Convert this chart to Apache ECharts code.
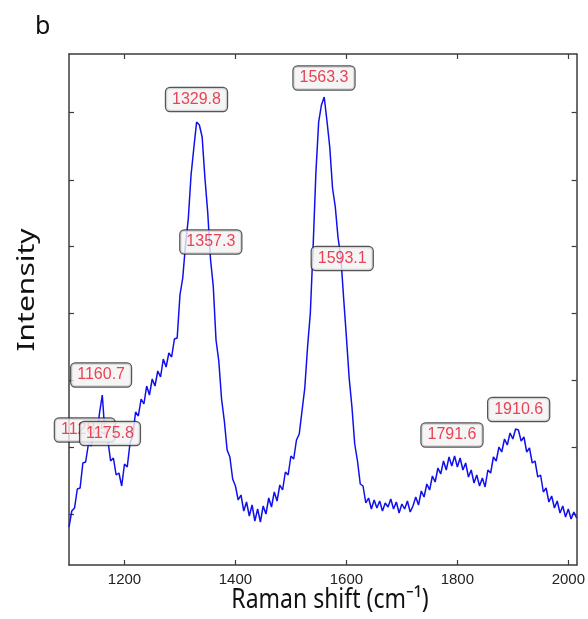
<!DOCTYPE html>
<html>
<head>
<meta charset="utf-8">
<script src="https://cdn.jsdelivr.net/npm/echarts@6/dist/echarts.min.js"></script>
<style>
  html, body { margin: 0; padding: 0; background: #fff; }
  #root { width: 588px; height: 619px; }
</style>
</head>
<body>
<div id="root"></div>
<script>
var shiftStart = 1100
var shiftStep = 5
var intensity = [
  380, 540, 570, 760, 770, 1020, 1030, 1210, 1190, 1330,
  1300, 1520, 1700, 1300, 1250, 1040, 1070, 900, 920, 790,
  1010, 980, 1220, 1290, 1530, 1490, 1660, 1610, 1790, 1700,
  1860, 1790, 1940, 1880, 2060, 1980, 2120, 2080, 2260, 2270,
  2700, 2870, 3200, 3460, 3900, 4170, 4430, 4400, 4280, 3870,
  3530, 3060, 2790, 2250, 2040, 1660, 1440, 1150, 1080, 860,
  790, 650, 700, 540, 630, 490, 600, 440, 560, 430,
  590, 510, 670, 580, 730, 640, 800, 750, 930, 900,
  1090, 1060, 1250, 1310, 1540, 1770, 2180, 2520, 3180, 3920,
  4430, 4600, 4680, 4440, 4180, 3770, 3580, 3270, 3080, 2670,
  2280, 1870, 1580, 1210, 1040, 810, 790, 620, 670, 560,
  650, 570, 640, 540, 620, 580, 660, 560, 630, 520,
  610, 560, 640, 530, 590, 680, 600, 740, 680, 810,
  750, 890, 830, 970, 910, 1040, 950, 1080, 990, 1090,
  980, 1070, 950, 1020, 880, 950, 820, 900, 790, 870,
  780, 950, 920, 1080, 1040, 1180, 1130, 1260, 1200, 1320,
  1260, 1360, 1350, 1240, 1280, 1130, 1170, 1020, 1040, 880,
  900, 730, 770, 630, 690, 570, 640, 520, 590, 480,
  560, 460, 530, 470
]

// x ticks and (unlabelled) y ticks
var xTicks = [1200, 1400, 1600, 1800, 2000]
var yTicks = [510, 1180, 1850, 2517, 3183, 3850, 4523]

// data tips: text and where the box sits (data units)
var tipText = ['1128.5', '1160.7', '1175.8', '1329.8', '1357.3', '1563.3', '1593.1', '1791.6', '1910.6']
var tipX = [1128.5, 1157.9, 1173.9, 1329.8, 1355.6, 1559.6, 1592.5, 1790.3, 1910.5]
var tipY = [1350, 1900, 1315, 4655, 3230, 4870, 3065, 1300, 1555]

var chart = echarts.init(document.getElementById('root'))

var spectrum = intensity.map(function (v, i) {
  return [shiftStart + i * shiftStep, v]
})
var tips = tipText.map(function (t, i) {
  return { name: t, value: [tipX[i], tipY[i]] }
})

var axisColor = '#3c3c3c'

function boxAxis(pos, isX) {
  var ax = {
    type: 'value',
    position: pos,
    axisLine: { show: true, onZero: false, lineStyle: { color: axisColor, width: 1.5 } },
    axisTick: {
      show: true, inside: true, length: 5,
      customValues: isX ? xTicks : yTicks,
      lineStyle: { color: axisColor, width: 1.2 }
    },
    axisLabel: { show: false },
    splitLine: { show: false }
  }
  if (isX) {
    ax.min = 1100
    ax.max = 2015
  } else {
    ax.min = 0
    ax.max = 5110
  }
  return ax
}

var xBottom = boxAxis('bottom', true)
xBottom.axisLabel = {
  show: true, customValues: xTicks, margin: 7,
  formatter: function (v) { return String(v) },
  color: '#222', fontSize: 15, fontFamily: 'Liberation Sans, Arial, sans-serif'
}

var option = {
  animation: false,
  backgroundColor: '#ffffff',
  grid: { left: 69, right: 5, top: 54, bottom: 54 },
  xAxis: [xBottom, boxAxis('top', true)],
  yAxis: [boxAxis('left', false), boxAxis('right', false)],
  graphic: [
    {
      type: 'text', left: 35, top: 14,
      style: { text: 'b', fontSize: 25, fontFamily: 'Noto Sans', fill: '#111' }
    },
    {
      type: 'text', x: 330, y: 600, scaleY: 1.2,
      style: {
        text: 'Raman shift (cm\u207B\u00B9)', fontSize: 23, fontFamily: 'Noto Sans',
        fill: '#111', align: 'center', verticalAlign: 'middle'
      }
    },
    {
      type: 'text', x: 27, y: 290, rotation: Math.PI / 2, scaleX: 1.25,
      style: {
        text: 'Intensity', fontSize: 24, fontFamily: 'Noto Sans',
        fill: '#111', align: 'center', verticalAlign: 'middle'
      }
    }
  ],
  series: [
    {
      name: 'Spectrum',
      type: 'line',
      xAxisIndex: 0,
      yAxisIndex: 0,
      showSymbol: false,
      symbol: 'none',
      lineStyle: { color: '#1010ee', width: 1.5 },
      data: spectrum,
      z: 2
    },
    {
      name: 'Tips',
      type: 'scatter',
      xAxisIndex: 0,
      yAxisIndex: 0,
      symbolSize: 1,
      itemStyle: { color: 'rgba(0,0,0,0)' },
      label: {
        show: true,
        position: 'inside',
        formatter: '{b}',
        color: '#e5152c',
        fontSize: 16,
        fontFamily: 'Liberation Sans, Arial, sans-serif',
        lineHeight: 17,
        backgroundColor: '#f3f3f3',
        borderColor: '#2a2a2a',
        borderWidth: 1.2,
        borderRadius: 4,
        padding: [3, 6, 3, 6]
      },
      labelLayout: { hideOverlap: false },
      data: tips,
      z: 5
    }
  ]
}

chart.setOption(option)
</script>
</body>
</html>
